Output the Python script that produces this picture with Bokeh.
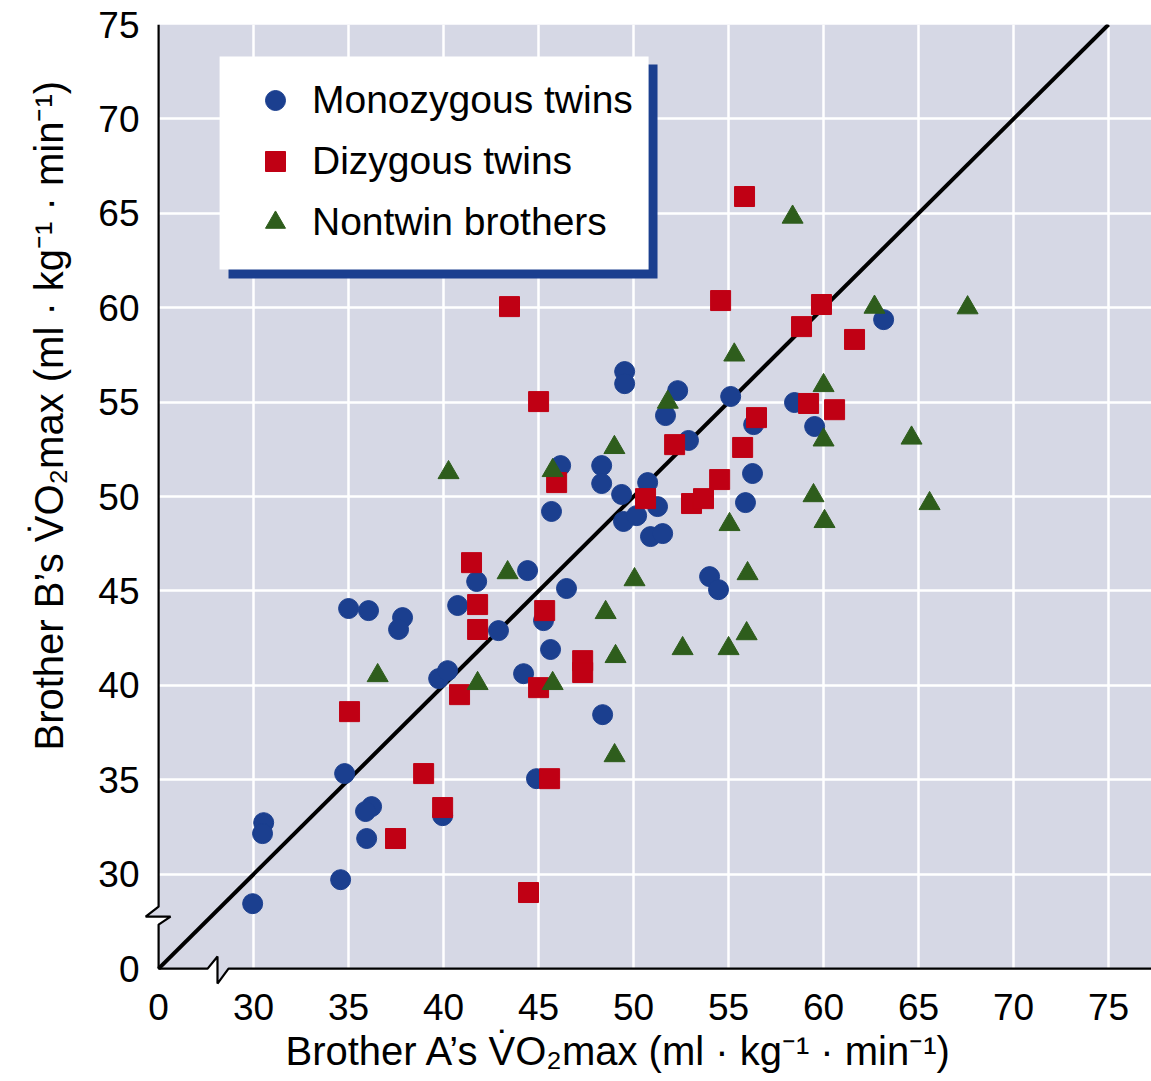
import numpy as np
from bokeh.plotting import figure
from bokeh.models import FixedTicker, Legend, LegendItem, BoxAnnotation, Title
from bokeh.embed import file_html
from bokeh.resources import INLINE

# ---------------- data (VO2max, ml/kg/min) ----------------
mono_a = [29.95, 30.53, 30.47, 34.79, 34.58, 35.0, 36.05, 36.21, 35.89, 35.95,
          37.84, 37.63, 39.74, 40.21, 39.95, 40.74, 41.74, 42.89, 44.42, 44.21,
          45.26, 45.63, 45.68, 46.16, 46.47, 44.89, 48.37, 48.32, 48.32, 49.53,
          49.53, 49.37, 49.47, 50.16, 50.74, 50.89, 51.53, 51.26, 51.68, 52.32,
          52.89, 54.0, 54.47, 55.11, 55.89, 56.26, 56.32, 58.47, 59.53, 63.16]
mono_b = [28.44, 32.73, 32.15, 35.33, 29.71, 44.07, 43.96, 33.58, 33.32, 31.89,
          43.59, 42.96, 40.36, 40.78, 33.1, 44.23, 45.5, 42.9, 46.08, 40.62,
          43.43, 41.9, 49.21, 51.64, 45.13, 35.06, 38.45, 51.64, 50.69, 56.62,
          55.98, 50.11, 48.68, 48.99, 50.74, 47.88, 48.04, 49.47, 54.29, 55.61,
          52.97, 45.76, 45.07, 55.3, 49.68, 51.22, 53.81, 54.98, 53.71, 59.37]

di_a = [35.05, 37.47, 38.95, 39.95, 40.84, 41.47, 41.79, 41.79, 43.47, 44.47,
        45.0, 45.0, 45.32, 45.58, 45.95, 47.32, 47.32, 50.63, 52.16, 53.05,
        53.68, 54.53, 54.58, 55.74, 55.84, 56.47, 58.84, 59.21, 59.89, 60.58,
        61.63]
di_b = [38.61, 31.89, 35.33, 33.53, 39.51, 46.5, 44.28, 42.96, 60.06, 29.03,
        55.03, 39.88, 43.96, 35.06, 50.74, 41.31, 40.68, 49.89, 52.75, 49.63,
        49.89, 50.9, 60.38, 52.6, 65.89, 54.18, 59.0, 54.93, 60.17, 54.6,
        58.32]

non_a = [40.26, 36.53, 41.79, 43.37, 45.74, 45.74, 48.53, 49.0, 49.05, 48.99,
         50.05, 51.8, 52.58, 55.0, 55.05, 55.3, 55.95, 56.0, 58.37, 59.47,
         60.0, 60.0, 60.05, 62.68, 64.63, 65.58, 67.58]
non_b = [51.27, 40.52, 40.1, 45.97, 51.38, 40.1, 43.86, 36.28, 41.53, 52.6,
         45.6, 55.0, 41.95, 41.95, 48.52, 57.5, 42.74, 45.92, 64.8, 50.05,
         55.88, 53.0, 48.68, 60.03, 53.1, 49.63, 60.0]

series_names = ["Monozygous twins", "Dizygous twins", "Nontwin brothers"]

# axis: the break puts "0" at the 25 position
tick_values = [25, 30, 35, 40, 45, 50, 55, 60, 65, 70, 75]
tick_labels = ["0", "30", "35", "40", "45", "50", "55", "60", "65", "70", "75"]
grid_x = [30, 35, 40, 45, 50, 55, 60, 65, 70, 75]
grid_y = [30, 35, 40, 45, 50, 55, 60, 65, 70]
identity = [25, 75]

# ---------------- style ----------------
FONT = "Liberation Sans"
BLUE = "#1b3f8f"
RED = "#c00014"
GREEN = "#2e5d1c"
BG = "#d6d8e5"

X0, X1 = 24.1, 77.26
Y0, Y1 = 24.0, 75.0
ORIG = 25.0

p = figure(width=1151, height=1081, x_range=(X0, X1), y_range=(Y0, Y1),
           output_backend="svg", toolbar_location=None,
           min_border_left=141, min_border_right=0, min_border_top=24,
           min_border_bottom=94)
p.background_fill_color = "white"
p.border_fill_color = "white"
p.outline_line_color = None

# panel with axis-break zigzags
bg_x = [ORIG, ORIG, ORIG - 0.68, ORIG + 0.63, ORIG, ORIG,
        ORIG + 2.58, ORIG + 3.1, ORIG + 3.1, ORIG + 3.68, X1, X1]
bg_y = [Y1, ORIG + 3.28, ORIG + 2.75, ORIG + 2.75, ORIG + 2.33, ORIG,
        ORIG, ORIG + 0.64, ORIG - 0.79, ORIG, ORIG, Y1]
bgr = p.patch(bg_x, bg_y, fill_color=BG, line_color=None)
bgr.level = "image"

# grid
for g in (p.xgrid, p.ygrid):
    g.grid_line_color = "white"
    g.grid_line_width = 2.5
p.xgrid.ticker = FixedTicker(ticks=grid_x)
p.ygrid.ticker = FixedTicker(ticks=grid_y)

# spines (drawn as lines with the break marks)
p.line(bg_x[:-1], bg_y[:-1], line_color="black", line_width=2.2)

# identity line
p.line(identity, identity, line_color="black", line_width=4)

# axes
overrides = {v: l for v, l in zip(tick_values, tick_labels)}
for ax in (p.xaxis[0], p.yaxis[0]):
    ax.ticker = FixedTicker(ticks=tick_values)
    ax.major_label_overrides = overrides
    ax.axis_line_color = None
    ax.major_tick_line_color = None
    ax.minor_tick_line_color = None
    ax.major_tick_out = 0
    ax.major_tick_in = 0
    ax.major_label_text_font = FONT
    ax.major_label_text_font_size = "37px"
    ax.major_label_text_color = "black"
p.xaxis[0].major_label_standoff = 6
p.yaxis[0].major_label_standoff = 2

# points
r_mono = p.scatter(mono_a, mono_b, marker="circle", size=20,
                   fill_color=BLUE, line_color=BLUE)
r_di = p.scatter(di_a, di_b, marker="square", size=20,
                 fill_color=RED, line_color=RED)
r_non = p.scatter(non_a, non_b, marker="triangle", size=21,
                  fill_color=GREEN, line_color=GREEN)

# legend frame with blue shadow
shadow = BoxAnnotation(left=28.68, right=51.26, top=72.88, bottom=61.55,
                       fill_color=BLUE, fill_alpha=1.0, line_color=None)
box = BoxAnnotation(left=28.21, right=50.79, top=73.31, bottom=62.02,
                    fill_color="white", fill_alpha=1.0, line_color=None)
p.add_layout(shadow)
p.add_layout(box)

legend = Legend(items=[LegendItem(label=series_names[0], renderers=[r_mono]),
                       LegendItem(label=series_names[1], renderers=[r_di]),
                       LegendItem(label=series_names[2], renderers=[r_non])],
                location=(109, 740), orientation="vertical",
                glyph_width=50, glyph_height=50, label_height=50,
                spacing=11, padding=0, margin=0, label_standoff=12,
                border_line_color=None, background_fill_alpha=0,
                label_text_font=FONT, label_text_font_size="39px",
                label_text_color="black", label_text_baseline="middle")
p.add_layout(legend, "center")

# axis titles
title_text = "V\u0307O\u2082max (ml \u00b7 kg\u207b\u00b9 \u00b7 min\u207b\u00b9)"
xt = Title(text="Brother A\u2019s " + title_text, align="left",
           vertical_align="middle", offset=144, standoff=10,
           text_font=FONT, text_font_size="40px", text_font_style="normal",
           text_color="black")
yt = Title(text="Brother B\u2019s " + title_text, align="left",
           vertical_align="middle", offset=237, standoff=48,
           text_font=FONT, text_font_size="40px", text_font_style="normal",
           text_color="black")
p.add_layout(xt, "below")
p.add_layout(yt, "left")

open("out.html", "w").write(file_html(p, INLINE))
